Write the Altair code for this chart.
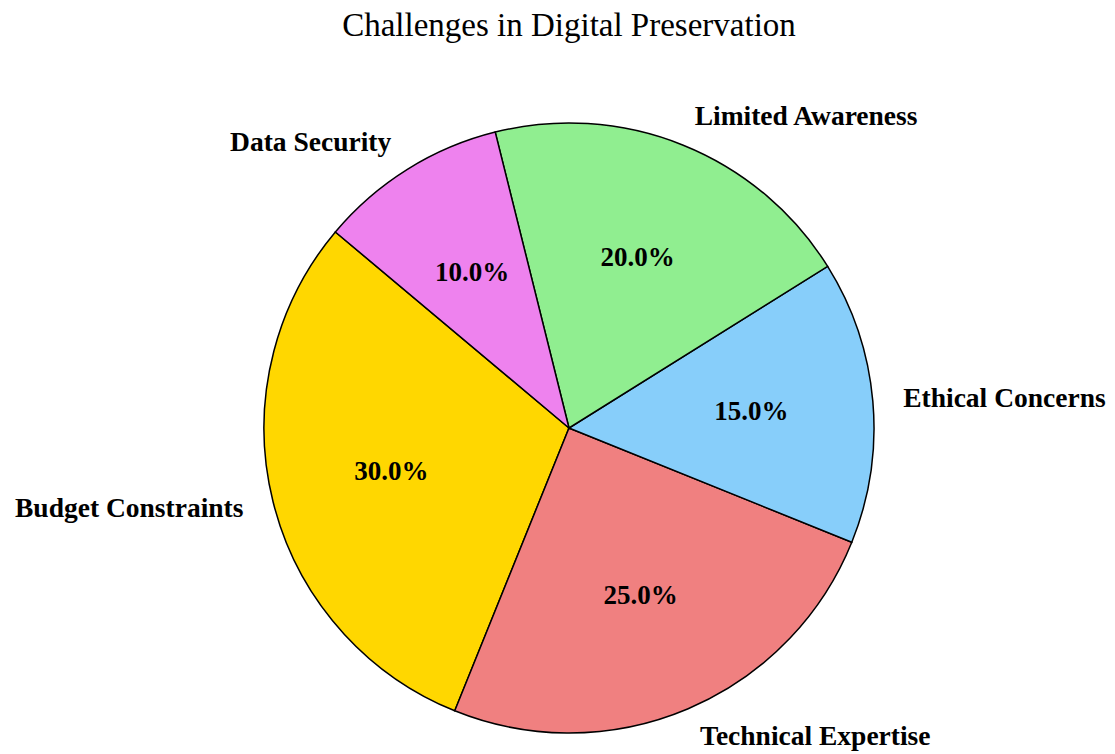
import math
import altair as alt
import pandas as pd

TITLE = "Challenges in Digital Preservation"
categories = ["Budget Constraints", "Technical Expertise", "Ethical Concerns",
              "Limited Awareness", "Data Security"]
values = [30, 25, 15, 20, 10]
colors = ["#FFD700", "#F08080", "#87CEFA", "#90EE90", "#EE82EE"]

START = -50 * math.pi / 180  # matplotlib startangle=140, counter-clockwise
CX, CY, R = 561, 420, 305
FONT = "Liberation Serif"

df = pd.DataFrame({"category": categories, "value": values,
                   "idx": list(range(len(categories)))})
df["pct"] = [f"{v / sum(values) * 100:.1f}%" for v in values]

theta = alt.Theta("value:Q", stack=True,
                  scale=alt.Scale(range=[START, START + 2 * math.pi]))
order = alt.Order("idx:Q", sort="descending")
color = alt.Color("category:N", scale=alt.Scale(domain=categories, range=colors),
                  legend=None)

base = alt.Chart(df)

arcs = base.mark_arc(outerRadius=R, stroke="black", strokeWidth=1.5).encode(
    theta=theta, order=order, color=color,
    x=alt.value(CX), y=alt.value(CY))

labels = base.transform_window(
    cum="sum(value)", sort=[alt.SortField("idx", order="descending")]
).transform_joinaggregate(total="sum(value)").transform_calculate(
    mid=f"{START} + 2*PI*(datum.cum - datum.value/2)/datum.total"
).mark_text(
    radius=R * 1.1, font=FONT, fontSize=27.5, fontWeight="bold", color="black",
    baseline="middle", align={"expr": "sin(datum.mid) >= 0 ? 'left' : 'right'"}
).encode(theta=theta, order=order, text="category:N",
         x=alt.value(CX), y=alt.value(CY))

pcts = base.mark_text(
    radius=R * 0.6, font=FONT, fontSize=27, fontWeight="bold", color="black",
    baseline="middle", align="center"
).encode(theta=theta, order=order, text="pct:N",
         x=alt.value(CX), y=alt.value(CY))

title = alt.Chart(pd.DataFrame({"t": [TITLE]})).mark_text(
    font=FONT, fontSize=33, color="black", baseline="alphabetic", align="center"
).encode(text="t:N", x=alt.value(CX), y=alt.value(28))

chart = alt.layer(arcs, labels, pcts, title).properties(
    width=1099, height=746, padding=0, autosize="none"
).configure_view(stroke=None)

chart.save("out.html", embed_options={"renderer": "svg", "actions": False})
